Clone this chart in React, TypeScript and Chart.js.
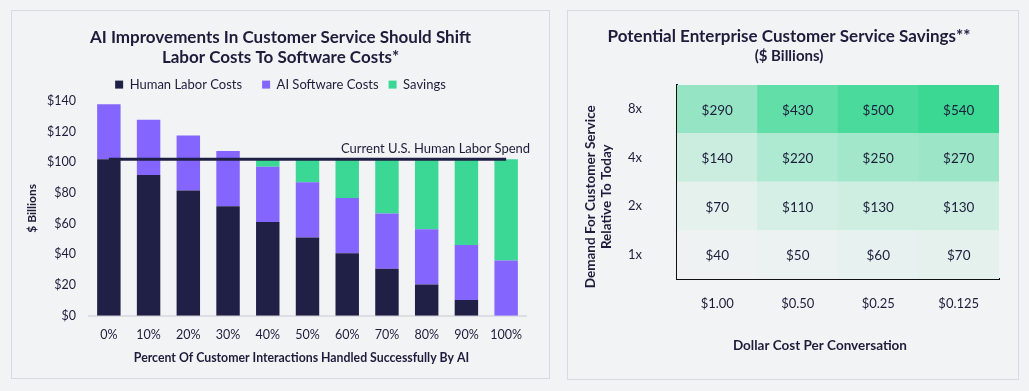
import React, { useEffect, useRef } from 'react';
import { Chart, registerables } from 'chart.js';

Chart.register(...registerables);
Chart.defaults.font.family = 'Lato, "Open Sans", sans-serif';

// ---------- Left chart data ----------
const shareHandledByAI = ['0%', '10%', '20%', '30%', '40%', '50%', '60%', '70%', '80%', '90%', '100%'];
const humanLaborCosts = [102, 91.8, 81.6, 71.4, 61.2, 51, 40.8, 30.6, 20.4, 10.2, 0];
const aiSoftwareCosts = [36, 36, 36, 36, 36, 36, 36, 36, 36, 36, 36];
const savingsValues = [0, 0, 0, 0, 4.8, 15, 25.2, 35.4, 45.6, 55.8, 66];
const currentLaborSpend = 102;
const dollarTicks = [0, 20, 40, 60, 80, 100, 120, 140];

// ---------- Right chart data ----------
const costPerConversation = ['$1.00', '$0.50', '$0.25', '$0.125'];
const demandLevels = ['1x', '2x', '4x', '8x'];
const savings1x = [40, 50, 60, 70];
const savings2x = [70, 110, 130, 130];
const savings4x = [140, 220, 250, 270];
const savings8x = [290, 430, 500, 540];
const savingsByDemand = [savings1x, savings2x, savings4x, savings8x];

const INK = '#1d1d3b';
const HUMAN = '#201f45';
const AI = '#8466ff';
const SAVE = '#3ad894';

function cellColor(v: number): string {
  const t = Math.max(0, Math.min(1, (v - 30) / 510));
  const a = [242, 243, 245];
  const b = [59, 216, 148];
  const c = a.map((x, i) => Math.round(x + (b[i] - x) * t));
  return `rgb(${c[0]},${c[1]},${c[2]})`;
}

const lineLabelPlugin = {
  id: 'lineLabel',
  afterDatasetsDraw(chart: any) {
    const meta = chart.getDatasetMeta(3);
    if (!meta || !meta.data.length) return;
    const last = meta.data[meta.data.length - 1];
    const ctx = chart.ctx;
    ctx.save();
    ctx.font = '13px Lato, "Open Sans", sans-serif';
    ctx.fillStyle = INK;
    ctx.textAlign = 'right';
    ctx.textBaseline = 'alphabetic';
    ctx.fillText('Current U.S. Human Labor Spend', last.x + 24, last.y - 6);
    ctx.restore();
  },
};

const cellLabelPlugin = {
  id: 'cellLabels',
  afterDatasetsDraw(chart: any) {
    const ctx = chart.ctx;
    ctx.save();
    ctx.font = '13.5px Lato, "Open Sans", sans-serif';
    ctx.fillStyle = INK;
    ctx.textAlign = 'center';
    ctx.textBaseline = 'middle';
    chart.data.datasets.forEach((_ds: any, i: number) => {
      const meta = chart.getDatasetMeta(i);
      meta.data.forEach((el: any, j: number) => {
        const p = el.getProps(['x', 'y', 'base'], true);
        ctx.fillText('$' + savingsByDemand[i][j], p.x, (p.y + p.base) / 2 + 1);
      });
    });
    ctx.restore();
  },
};

// an empty right-hand axis used only to reserve room on the right of the plot
const spacerAxis = (w: number) => ({
  type: 'linear',
  position: 'right',
  display: true,
  grid: { display: false, drawTicks: false },
  border: { display: false },
  ticks: { display: false },
  afterFit: (s: any) => { s.width = w; },
});

function LeftChart() {
  const ref = useRef<HTMLCanvasElement>(null);
  useEffect(() => {
    if (!ref.current) return;
    const chart = new Chart(ref.current, {
      type: 'bar',
      data: {
        labels: shareHandledByAI,
        datasets: [
          { label: 'Human Labor Costs', data: humanLaborCosts, backgroundColor: HUMAN, stack: 'cost', barPercentage: 0.59, categoryPercentage: 1 },
          { label: 'AI Software Costs', data: aiSoftwareCosts, backgroundColor: AI, stack: 'cost', barPercentage: 0.59, categoryPercentage: 1 },
          { label: 'Savings', data: savingsValues, backgroundColor: SAVE, stack: 'cost', barPercentage: 0.59, categoryPercentage: 1 },
          {
            type: 'line',
            label: 'Current U.S. Human Labor Spend',
            data: shareHandledByAI.map(() => currentLaborSpend),
            borderColor: HUMAN,
            borderWidth: 3,
            pointRadius: 0,
            stack: 'ref',
            order: -1,
          } as any,
        ],
      },
      options: {
        responsive: false,
        animation: false,
        layout: { padding: { left: 0, right: 0, top: 0, bottom: 0 } },
        plugins: {
          title: {
            display: true,
            text: ['AI Improvements In Customer Service Should Shift', 'Labor Costs To Software Costs*'],
            color: INK,
            font: { size: 17, weight: 'bold', lineHeight: 1.15 },
            padding: { top: 17.7, bottom: 1.3 },
          },
          legend: {
            display: true,
            position: 'top',
            labels: {
              boxWidth: 8,
              boxHeight: 8,
              padding: 10,
              color: INK,
              font: { size: 13 },
              filter: (item: any) => item.datasetIndex < 3,
              generateLabels: (chart: any) => {
                const items = (Chart.defaults.plugins.legend.labels as any).generateLabels(chart);
                return items.map((it: any, i: number) => ({ ...it, text: i < 2 ? it.text + '   ' : it.text, lineWidth: 0 }));
              },
            },
          },
          tooltip: { enabled: false },
        },
        scales: {
          x: {
            stacked: true,
            grid: { display: false, drawTicks: false },
            border: { display: true, color: '#dcdee3', width: 2 },
            ticks: { color: INK, font: { size: 12.5 }, padding: 12 },
            title: {
              display: true,
              text: 'Percent Of Customer Interactions Handled Successfully By AI    ',
              color: INK,
              font: { size: 12.3, weight: 'bold' },
              padding: { top: 0, bottom: 15 },
            },
            afterFit: (s: any) => { s.height = 64.3; },
          },
          y: {
            stacked: true,
            min: 0,
            max: 140,
            afterBuildTicks: (s: any) => { s.ticks = dollarTicks.map((v) => ({ value: v })); },
            grid: { display: false, drawTicks: false },
            border: { display: false },
            ticks: { color: INK, font: { size: 12.5 }, padding: 13, callback: (v: any) => '$' + v },
            title: {
              display: true,
              text: '$ Billions',
              color: INK,
              font: { size: 12, weight: 'bold' },
              padding: { top: 13.8, bottom: 0 },
            },
            afterFit: (s: any) => { s.width = 78; },
          },
          pad: spacerAxis(24),
        },
      } as any,
      plugins: [lineLabelPlugin],
    });
    return () => chart.destroy();
  }, []);
  return <canvas ref={ref} width={539} height={370} />;
}

function RightChart() {
  const ref = useRef<HTMLCanvasElement>(null);
  useEffect(() => {
    if (!ref.current) return;
    const chart = new Chart(ref.current, {
      type: 'bar',
      data: {
        labels: costPerConversation,
        datasets: demandLevels.map((lvl, i) => ({
          label: lvl,
          data: costPerConversation.map(() => 1),
          backgroundColor: savingsByDemand[i].map(cellColor),
          borderWidth: 0,
          barPercentage: 1,
          categoryPercentage: 1,
        })),
      },
      options: {
        responsive: false,
        animation: false,
        layout: { padding: { left: 0, right: 8, top: 0, bottom: 0 } },
        plugins: {
          legend: { display: false },
          tooltip: { enabled: false },
          title: {
            display: true,
            text: 'Potential Enterprise Customer Service Savings**',
            color: INK,
            font: { size: 17, weight: 'bold', lineHeight: 1.2 },
            padding: { top: 16.5, bottom: 0 },
          },
          subtitle: {
            display: true,
            text: '($ Billions)',
            color: INK,
            font: { size: 15, weight: 'bold', lineHeight: 1.2 },
            padding: { top: 0, bottom: 20 },
          },
        },
        scales: {
          x: {
            stacked: true,
            z: 1,
            grid: { display: false, drawTicks: false },
            border: { display: true, color: '#111111', width: 2 },
            ticks: { color: INK, font: { size: 13 }, padding: 17 },
            title: {
              display: true,
              text: 'Dollar Cost Per Conversation           ',
              color: INK,
              font: { size: 13.5, weight: 'bold' },
              padding: { top: 0, bottom: 26 },
            },
            afterFit: (s: any) => { s.height = 101; },
          },
          y: {
            stacked: true,
            z: 1,
            min: 0,
            max: demandLevels.length,
            afterBuildTicks: (s: any) => { s.ticks = demandLevels.map((_l, i) => ({ value: i + 0.5 })); },
            grid: { display: false, drawTicks: false },
            border: { display: true, color: '#111111', width: 2 },
            ticks: {
              color: INK,
              font: { size: 13 },
              crossAlign: 'center',
              padding: 35,
              callback: (v: any) => demandLevels[Math.floor(Number(v))],
            },
            title: {
              display: true,
              text: ['Demand For Customer Service         ', 'Relative To Today         '],
              color: INK,
              font: { size: 13.5, weight: 'bold', lineHeight: 1.12 },
              padding: { top: 16.5, bottom: 0 },
            },
            afterFit: (s: any) => { s.width = 110; },
          },
          pad: spacerAxis(12),
        },
      } as any,
      plugins: [cellLabelPlugin],
    });
    return () => chart.destroy();
  }, []);
  return <canvas ref={ref} width={452} height={370} />;
}

export default function App() {
  const panel: React.CSSProperties = {
    position: 'absolute',
    border: '1.5px solid #d8dadf',
    boxSizing: 'border-box',
  };
  return (
    <div style={{ position: 'fixed', left: 0, top: 0, width: 1029, height: 391, background: '#f2f3f5', overflow: 'hidden' }}>
      <div style={{ ...panel, left: 11, top: 10, width: 539, height: 369 }} />
      <div style={{ ...panel, left: 567, top: 10, width: 452, height: 370 }} />
      <div style={{ position: 'absolute', left: 11, top: 10, width: 539, height: 370 }}>
        <LeftChart />
      </div>
      <div style={{ position: 'absolute', left: 567, top: 10, width: 452, height: 370 }}>
        <RightChart />
      </div>
    </div>
  );
}
